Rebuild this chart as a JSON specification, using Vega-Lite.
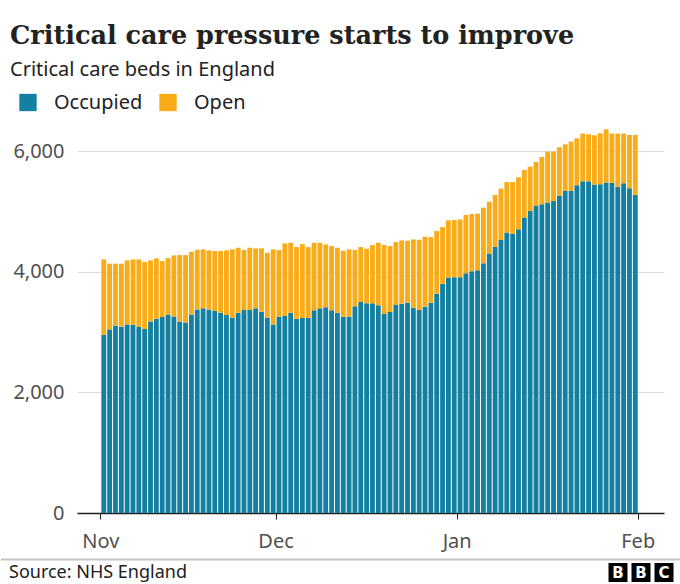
{
  "$schema": "https://vega.github.io/schema/vega-lite/v6.json",
  "background": "white",
  "padding": {"left": 0, "top": 24, "right": 0, "bottom": 0},
  "title": {
    "text": "Critical care pressure starts to improve",
    "subtitle": "Critical care beds in England",
    "anchor": "start",
    "dx": 10,
    "font": "DejaVu Serif",
    "fontSize": 25.5,
    "fontWeight": "bold",
    "color": "#222222",
    "subtitleFont": "Noto Sans",
    "subtitleFontSize": 20,
    "subtitleColor": "#222222",
    "subtitlePadding": 10,
    "offset": 13
  },
  "config": {
    "view": {"stroke": null},
    "font": "Noto Sans"
  },
  "spacing": 7.5,
  "vconcat": [
    {
      "width": 587,
      "height": 386,
      "data": {
        "values": [
          {"date": "2020/11/01", "Occupied": 2950, "Open": 1254},
          {"date": "2020/11/02", "Occupied": 3044, "Open": 1089},
          {"date": "2020/11/03", "Occupied": 3105, "Open": 1028},
          {"date": "2020/11/04", "Occupied": 3090, "Open": 1043},
          {"date": "2020/11/05", "Occupied": 3127, "Open": 1061},
          {"date": "2020/11/06", "Occupied": 3120, "Open": 1084},
          {"date": "2020/11/07", "Occupied": 3083, "Open": 1121},
          {"date": "2020/11/08", "Occupied": 3050, "Open": 1110},
          {"date": "2020/11/09", "Occupied": 3177, "Open": 1011},
          {"date": "2020/11/10", "Occupied": 3222, "Open": 999},
          {"date": "2020/11/11", "Occupied": 3249, "Open": 928},
          {"date": "2020/11/12", "Occupied": 3293, "Open": 934},
          {"date": "2020/11/13", "Occupied": 3260, "Open": 1011},
          {"date": "2020/11/14", "Occupied": 3177, "Open": 1099},
          {"date": "2020/11/15", "Occupied": 3160, "Open": 1116},
          {"date": "2020/11/16", "Occupied": 3293, "Open": 1039},
          {"date": "2020/11/17", "Occupied": 3376, "Open": 987},
          {"date": "2020/11/18", "Occupied": 3393, "Open": 977},
          {"date": "2020/11/19", "Occupied": 3376, "Open": 978},
          {"date": "2020/11/20", "Occupied": 3349, "Open": 994},
          {"date": "2020/11/21", "Occupied": 3321, "Open": 1022},
          {"date": "2020/11/22", "Occupied": 3283, "Open": 1071},
          {"date": "2020/11/23", "Occupied": 3238, "Open": 1132},
          {"date": "2020/11/24", "Occupied": 3321, "Open": 1077},
          {"date": "2020/11/25", "Occupied": 3365, "Open": 995},
          {"date": "2020/11/26", "Occupied": 3365, "Open": 1033},
          {"date": "2020/11/27", "Occupied": 3393, "Open": 995},
          {"date": "2020/11/28", "Occupied": 3338, "Open": 1050},
          {"date": "2020/11/29", "Occupied": 3238, "Open": 1077},
          {"date": "2020/11/30", "Occupied": 3127, "Open": 1243},
          {"date": "2020/12/01", "Occupied": 3255, "Open": 1105},
          {"date": "2020/12/02", "Occupied": 3266, "Open": 1204},
          {"date": "2020/12/03", "Occupied": 3320, "Open": 1161},
          {"date": "2020/12/04", "Occupied": 3222, "Open": 1187},
          {"date": "2020/12/05", "Occupied": 3233, "Open": 1226},
          {"date": "2020/12/06", "Occupied": 3238, "Open": 1171},
          {"date": "2020/12/07", "Occupied": 3360, "Open": 1121},
          {"date": "2020/12/08", "Occupied": 3393, "Open": 1088},
          {"date": "2020/12/09", "Occupied": 3410, "Open": 1043},
          {"date": "2020/12/10", "Occupied": 3360, "Open": 1066},
          {"date": "2020/12/11", "Occupied": 3321, "Open": 1077},
          {"date": "2020/12/12", "Occupied": 3255, "Open": 1093},
          {"date": "2020/12/13", "Occupied": 3255, "Open": 1115},
          {"date": "2020/12/14", "Occupied": 3426, "Open": 934},
          {"date": "2020/12/15", "Occupied": 3498, "Open": 911},
          {"date": "2020/12/16", "Occupied": 3476, "Open": 906},
          {"date": "2020/12/17", "Occupied": 3476, "Open": 966},
          {"date": "2020/12/18", "Occupied": 3443, "Open": 1038},
          {"date": "2020/12/19", "Occupied": 3300, "Open": 1145},
          {"date": "2020/12/20", "Occupied": 3332, "Open": 1094},
          {"date": "2020/12/21", "Occupied": 3449, "Open": 1043},
          {"date": "2020/12/22", "Occupied": 3471, "Open": 1049},
          {"date": "2020/12/23", "Occupied": 3487, "Open": 1027},
          {"date": "2020/12/24", "Occupied": 3404, "Open": 1132},
          {"date": "2020/12/25", "Occupied": 3365, "Open": 1166},
          {"date": "2020/12/26", "Occupied": 3421, "Open": 1160},
          {"date": "2020/12/27", "Occupied": 3487, "Open": 1088},
          {"date": "2020/12/28", "Occupied": 3637, "Open": 1038},
          {"date": "2020/12/29", "Occupied": 3803, "Open": 938},
          {"date": "2020/12/30", "Occupied": 3903, "Open": 949},
          {"date": "2020/12/31", "Occupied": 3910, "Open": 948},
          {"date": "2021/01/01", "Occupied": 3910, "Open": 958},
          {"date": "2021/01/02", "Occupied": 3974, "Open": 967},
          {"date": "2021/01/03", "Occupied": 4010, "Open": 948},
          {"date": "2021/01/04", "Occupied": 4024, "Open": 939},
          {"date": "2021/01/05", "Occupied": 4140, "Open": 922},
          {"date": "2021/01/06", "Occupied": 4301, "Open": 861},
          {"date": "2021/01/07", "Occupied": 4411, "Open": 861},
          {"date": "2021/01/08", "Occupied": 4527, "Open": 851},
          {"date": "2021/01/09", "Occupied": 4650, "Open": 838},
          {"date": "2021/01/10", "Occupied": 4627, "Open": 861},
          {"date": "2021/01/11", "Occupied": 4704, "Open": 862},
          {"date": "2021/01/12", "Occupied": 4898, "Open": 789},
          {"date": "2021/01/13", "Occupied": 5008, "Open": 735},
          {"date": "2021/01/14", "Occupied": 5091, "Open": 729},
          {"date": "2021/01/15", "Occupied": 5119, "Open": 784},
          {"date": "2021/01/16", "Occupied": 5147, "Open": 845},
          {"date": "2021/01/17", "Occupied": 5174, "Open": 818},
          {"date": "2021/01/18", "Occupied": 5260, "Open": 804},
          {"date": "2021/01/19", "Occupied": 5340, "Open": 773},
          {"date": "2021/01/20", "Occupied": 5340, "Open": 818},
          {"date": "2021/01/21", "Occupied": 5435, "Open": 778},
          {"date": "2021/01/22", "Occupied": 5501, "Open": 790},
          {"date": "2021/01/23", "Occupied": 5501, "Open": 778},
          {"date": "2021/01/24", "Occupied": 5446, "Open": 817},
          {"date": "2021/01/25", "Occupied": 5451, "Open": 845},
          {"date": "2021/01/26", "Occupied": 5479, "Open": 883},
          {"date": "2021/01/27", "Occupied": 5473, "Open": 818},
          {"date": "2021/01/28", "Occupied": 5407, "Open": 884},
          {"date": "2021/01/29", "Occupied": 5468, "Open": 823},
          {"date": "2021/01/30", "Occupied": 5385, "Open": 883},
          {"date": "2021/01/31", "Occupied": 5274, "Open": 994}
        ]
      },
      "transform": [
        {"fold": ["Occupied", "Open"], "as": ["status", "beds"]}
      ],
      "mark": {"type": "bar", "timeUnitBandSize": 0.84, "timeUnitBandPosition": 0.08},
      "encoding": {
        "x": {
          "field": "date",
          "timeUnit": "yearmonthdate",
          "type": "temporal",
          "scale": {
            "domain": [
              {"year": 2020, "month": 10, "date": 28},
              {"year": 2021, "month": 2, "date": 5, "hours": 12}
            ]
          },
          "axis": {
            "title": null,
            "format": "%b",
            "tickCount": {"interval": "month", "step": 1},
            "grid": false,
            "domainColor": "#222222",
            "domainWidth": 1.5,
            "tickColor": "#222222",
            "tickSize": 6,
            "labelFontSize": 20,
            "labelColor": "#505050",
            "labelPadding": 12,
            "labelFlush": false
          }
        },
        "y": {
          "field": "beds",
          "type": "quantitative",
          "stack": "zero",
          "scale": {"domain": [0, 6400]},
          "axis": {
            "title": null,
            "values": [0, 2000, 4000, 6000],
            "format": ",.0f",
            "domain": false,
            "ticks": false,
            "gridColor": "#dcdcdc",
            "labelFontSize": 20,
            "labelColor": "#505050",
            "labelPadding": 13
          }
        },
        "color": {
          "field": "status",
          "type": "nominal",
          "scale": {"domain": ["Occupied", "Open"], "range": ["#1380A1", "#FAAB18"]},
          "legend": {
            "title": null,
            "orient": "none",
            "direction": "horizontal",
            "legendX": -59,
            "legendY": -34.5,
            "symbolType": "square",
            "symbolSize": 300,
            "symbolStrokeWidth": 0,
            "symbolOpacity": 1,
            "labelFontSize": 20,
            "labelColor": "#222222",
            "labelOffset": 16,
            "columnPadding": 15
          }
        },
        "order": {"field": "status", "sort": "ascending"}
      }
    },
    {
      "width": 587,
      "height": 26,
      "data": {"values": [{"source": "Source: NHS England"}]},
      "layer": [
        {
          "mark": {"type": "rule", "color": "#c4c4c4", "strokeWidth": 2},
          "encoding": {
            "x": {"datum": 0, "type": "quantitative", "scale": {"domain": [0, 1], "range": [-76, 604]}, "axis": null},
            "x2": {"datum": 1},
            "y": {"datum": 1, "type": "quantitative", "scale": {"domain": [0, 1]}, "axis": null}
          }
        },
        {
          "mark": {"type": "text", "align": "left", "baseline": "middle", "dx": 8, "fontSize": 18, "color": "#222222"},
          "encoding": {
            "text": {"field": "source"},
            "x": {"datum": 0, "type": "quantitative", "scale": {"domain": [0, 1], "range": [-76, 604]}, "axis": null},
            "y": {"datum": 0.5, "type": "quantitative", "scale": {"domain": [0, 1]}, "axis": null}
          }
        },
        {
          "data": {
            "values": [
              {"slot": 1, "letter": "B"},
              {"slot": 2, "letter": "B"},
              {"slot": 3, "letter": "C"}
            ]
          },
          "layer": [
            {
              "mark": {"type": "point", "shape": "square", "filled": true, "size": 361, "color": "#000000", "opacity": 1},
              "encoding": {
                "x": {"field": "slot", "type": "ordinal", "scale": {"type": "point", "range": [541, 587], "padding": 0}, "axis": null},
                "y": {"datum": 0.5, "type": "quantitative", "scale": {"domain": [0, 1]}, "axis": null}
              }
            },
            {
              "mark": {"type": "text", "fontSize": 15, "fontWeight": "bold", "color": "#ffffff", "baseline": "middle", "font": "DejaVu Sans"},
              "encoding": {
                "text": {"field": "letter"},
                "x": {"field": "slot", "type": "ordinal", "scale": {"type": "point", "range": [541, 587], "padding": 0}, "axis": null},
                "y": {"datum": 0.5, "type": "quantitative", "scale": {"domain": [0, 1]}, "axis": null}
              }
            }
          ]
        }
      ],
      "resolve": {"scale": {"x": "independent"}}
    }
  ]
}
